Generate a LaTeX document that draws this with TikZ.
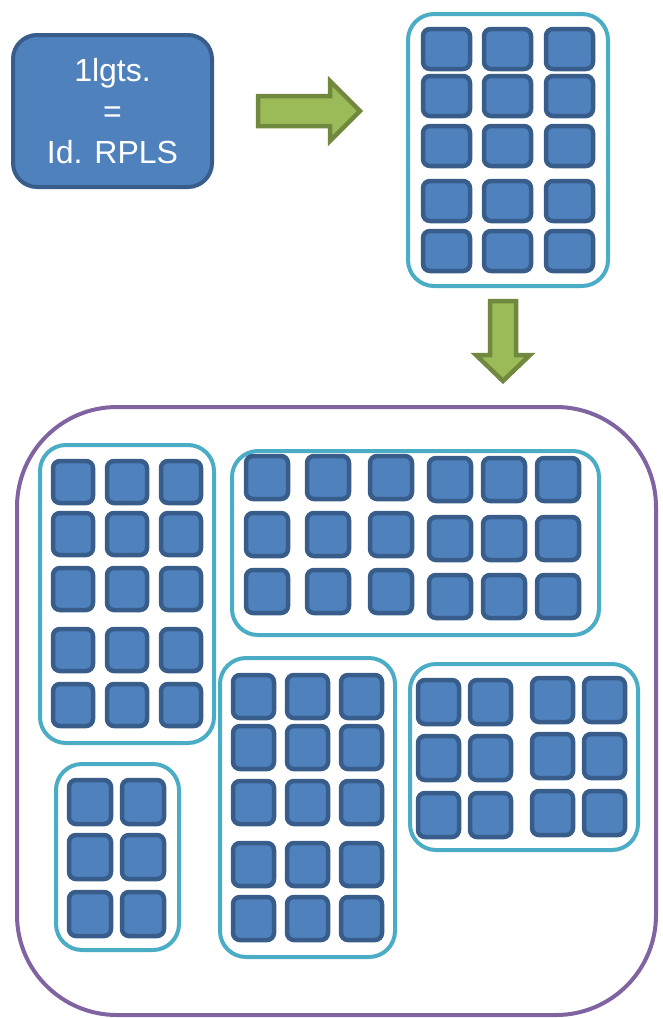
\documentclass[tikz,border=0pt]{standalone}
\usepackage{fontspec}
\setmainfont{Liberation Sans}

\definecolor{tilefill}{HTML}{4F81BD}
\definecolor{tileline}{HTML}{385D8A}
\definecolor{grpline}{HTML}{4BACC6}
\definecolor{outerline}{HTML}{8064A2}
\definecolor{arrfill}{HTML}{9BBB59}
\definecolor{arrline}{HTML}{71893F}

\begin{document}
\begin{tikzpicture}[
  x=1pt, y=-1pt,
  tile/.style={draw=tileline, fill=tilefill, line width=4.5pt, rounded corners=7pt},
  group/.style={draw=grpline, line width=4pt, rounded corners=26pt},
  outer/.style={draw=outerline, line width=4pt, rounded corners=100pt},
  fatarrow/.style={draw=arrline, fill=arrfill, line width=4.5pt, line join=miter},
  keybox/.style={draw=tileline, fill=tilefill, line width=4pt, rounded corners=24pt,
    minimum width=199pt, minimum height=152pt, inner sep=0pt, align=center,
    text=white, font=\fontsize{32}{41}\selectfont}
]
\useasboundingbox (0,0) rectangle (662,1018);

\node[keybox] (lgts) at (112.5,111) {1lgts.\\=\\Id. RPLS};

\draw[fatarrow] (258,96) -- (330,96) -- (330,81) -- (360,111) -- (330,141) -- (330,126) -- (258,126) -- cycle;
\draw[fatarrow] (490,301) -- (516,301) -- (516,355) -- (530,355) -- (503,381) -- (476,355) -- (490,355) -- cycle;

% one building
\draw[group] (408,14) rectangle (608,286);
\foreach \x in {423,484,546}
  \foreach \y in {29,76,126,181,231}
    \draw[tile] (\x,\y) rectangle ++(47,40);

% the whole set
\draw[outer] (17,407) rectangle (656,1015);

\draw[group] (40,445) rectangle (214,743);
\foreach \x in {53,107,161}
  \foreach \y in {461,513,568,629,684}
    \draw[tile] (\x,\y) rectangle ++(40,42);

\draw[group] (232,451) rectangle (599,635);
\foreach \x in {246,307,370}
  \foreach \y in {456,513,570}
    \draw[tile] (\x,\y) rectangle ++(42,43);
\foreach \x in {429,483,537}
  \foreach \y in {458,517,575}
    \draw[tile] (\x,\y) rectangle ++(42,43);

\draw[group] (220,658) rectangle (395,957);
\foreach \x in {233,287,341}
  \foreach \y in {675,726,781,843,897}
    \draw[tile] (\x,\y) rectangle ++(41,43);

\draw[group] (410,664) rectangle (638,850);
\foreach \x in {418,470}
  \foreach \y in {680,736,793}
    \draw[tile] (\x,\y) rectangle ++(41,44);
\foreach \x in {532,584}
  \foreach \y in {678,734,791}
    \draw[tile] (\x,\y) rectangle ++(41,44);

\draw[group] (56,764) rectangle (179,950);
\foreach \x in {69,122}
  \foreach \y in {780,835,892}
    \draw[tile] (\x,\y) rectangle ++(42,44);

\end{tikzpicture}
\end{document}
